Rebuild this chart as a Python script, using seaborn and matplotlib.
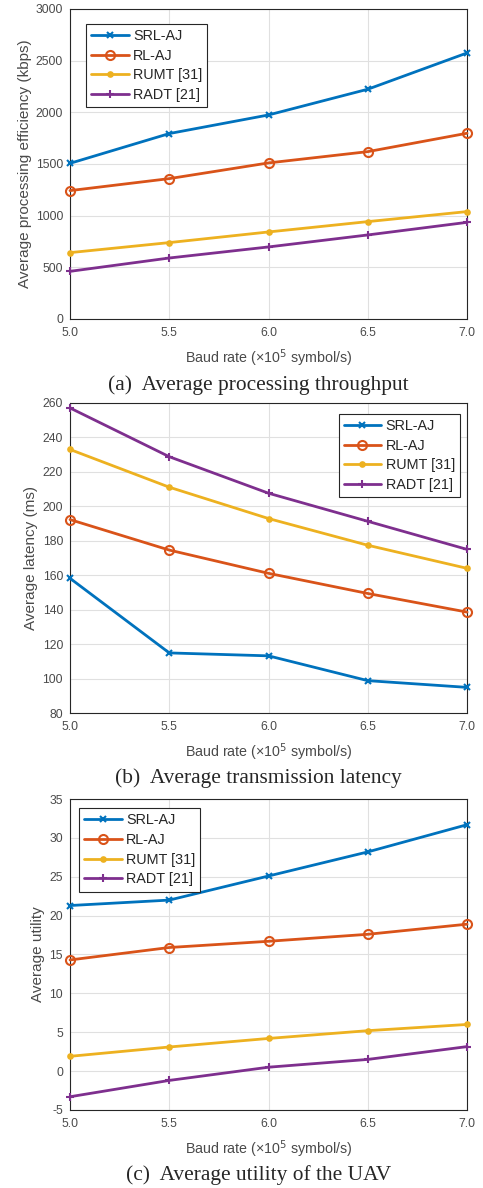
import pandas as pd
import matplotlib.pyplot as plt
import seaborn as sns

# =========================
# 1. DATA
# =========================
baud = [5.0, 5.5, 6.0, 6.5, 7.0]
methods = ["SRL-AJ", "RL-AJ", "RUMT [31]", "RADT [21]"]

throughput_srl = [1506, 1794, 1974, 2223, 2574]
throughput_rl = [1242, 1358, 1510, 1619, 1797]
throughput_rumt = [642, 739, 842, 942, 1039]
throughput_radt = [461, 590, 697, 813, 935]

latency_srl = [158.2, 114.9, 113.2, 98.8, 94.9]
latency_rl = [192.3, 174.6, 161.1, 149.4, 138.6]
latency_rumt = [233.0, 211.1, 192.9, 177.4, 164.0]
latency_radt = [257.1, 228.8, 207.6, 191.3, 175.0]

utility_srl = [21.3, 22.0, 25.1, 28.2, 31.7]
utility_rl = [14.3, 15.9, 16.7, 17.6, 18.9]
utility_rumt = [1.9, 3.1, 4.2, 5.2, 6.0]
utility_radt = [-3.3, -1.2, 0.5, 1.5, 3.15]

captions = ["(a)  Average processing throughput",
            "(b)  Average transmission latency",
            "(c)  Average utility of the UAV"]
ylabels = ["Average processing efficiency (kbps)", "Average latency (ms)", "Average utility"]

# =========================
# 2. STYLE
# =========================
sns.set_style("whitegrid")
plt.rcParams['font.family'] = ['Liberation Sans', 'DejaVu Sans']
plt.rcParams['xtick.direction'] = 'in'
plt.rcParams['ytick.direction'] = 'in'
plt.rcParams['axes.unicode_minus'] = False

colors = ["#0072BD", "#D95319", "#EDB120", "#7E2F8E"]
marker_kw = [
    dict(marker="x", markersize=4.5, markeredgewidth=1.5),
    dict(marker="o", markersize=6.5, markerfacecolor="none", markeredgewidth=1.5),
    dict(marker="o", markersize=4.8, markeredgewidth=0),
    dict(marker="+", markersize=6, markeredgewidth=1.5),
]

panels = [
    dict(data=[throughput_srl, throughput_rl, throughput_rumt, throughput_radt],
         ylim=(0, 3000), yticks=range(0, 3001, 500), legend=(0.04, 0.952), loc="upper left"),
    dict(data=[latency_srl, latency_rl, latency_rumt, latency_radt],
         ylim=(80, 260), yticks=range(80, 261, 20), legend=(0.982, 0.965), loc="upper right"),
    dict(data=[utility_srl, utility_rl, utility_rumt, utility_radt],
         ylim=(-5, 35), yticks=range(-5, 36, 5), legend=(0.023, 0.971), loc="upper left"),
]

axes_pos = [
    [0.145, 0.7315, 0.822, 0.261],
    [0.145, 0.3998, 0.822, 0.261],
    [0.145, 0.0657, 0.822, 0.2617],
]
caption_y = [0.672, 0.341, 0.0070]

fig = plt.figure(figsize=(4.83, 11.88), dpi=100)

for i, p in enumerate(panels):
    ax = fig.add_axes(axes_pos[i])
    for j, name in enumerate(methods):
        df = pd.DataFrame({"baud": baud, "value": p["data"][j]})
        sns.lineplot(data=df, x="baud", y="value", ax=ax, color=colors[j],
                     linewidth=2, label=name, markeredgecolor=colors[j],
                     clip_on=False, zorder=3, **marker_kw[j])
    ax.set_xlim(5.0, 7.0)
    ax.set_ylim(*p["ylim"])
    ax.set_xticks(baud)
    ax.set_xticklabels([f"{b:.1f}" for b in baud])
    ax.set_yticks(list(p["yticks"]))
    ax.tick_params(labelsize=8.7, colors="#4a4a4a", length=3, width=0.6)
    ax.tick_params(axis="x", pad=6)
    ax.tick_params(axis="y", pad=5)
    ax.grid(color="#e0e0e0", linewidth=0.8)
    for s in ax.spines.values():
        s.set_color("#262626")
        s.set_linewidth(0.8)
    ax.set_xlabel("Baud rate (×10$^5$ symbol/s)", fontsize=10.3, color="#4a4a4a", labelpad=6)
    ax.set_ylabel(ylabels[i], fontsize=11, color="#4a4a4a", labelpad=3)
    leg = ax.legend(loc=p["loc"], bbox_to_anchor=p["legend"], fontsize=10.4,
                    frameon=True, fancybox=False, framealpha=1, handlelength=2.6,
                    borderpad=0.35, labelspacing=0.4, handletextpad=0.3, borderaxespad=0)
    leg.get_frame().set_edgecolor("#262626")
    leg.get_frame().set_linewidth(0.8)
    fig.text(0.535, caption_y[i], captions[i], ha="center", fontsize=15.4,
             family=["Liberation Serif", "DejaVu Serif"])

fig.savefig("out.png", dpi=100)
